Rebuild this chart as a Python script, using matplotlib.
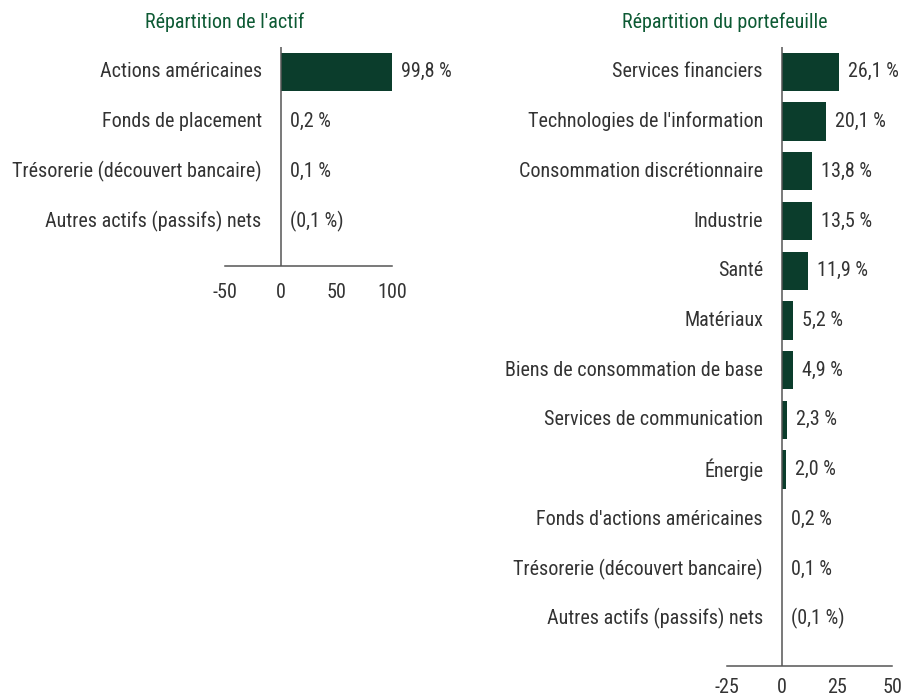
import matplotlib
matplotlib.use("Agg")
import matplotlib.pyplot as plt
from matplotlib.font_manager import fontManager

# data
actif_labels = ["Actions américaines", "Fonds de placement",
                "Trésorerie (découvert bancaire)", "Autres actifs (passifs) nets"]
actif_values = [99.8, 0.2, 0.1, -0.1]
actif_text = ["99,8 %", "0,2 %", "0,1 %", "(0,1 %)"]

porte_labels = ["Services financiers", "Technologies de l'information",
                "Consommation discrétionnaire", "Industrie", "Santé", "Matériaux",
                "Biens de consommation de base", "Services de communication",
                "Énergie", "Fonds d'actions américaines",
                "Trésorerie (découvert bancaire)", "Autres actifs (passifs) nets"]
porte_values = [26.1, 20.1, 13.8, 13.5, 11.9, 5.2, 4.9, 2.3, 2.0, 0.2, 0.1, -0.1]
porte_text = ["26,1 %", "20,1 %", "13,8 %", "13,5 %", "11,9 %", "5,2 %", "4,9 %",
              "2,3 %", "2,0 %", "0,2 %", "0,1 %", "(0,1 %)"]

installed = {f.name for f in fontManager.ttflist}
fam = "Liberation Sans"
for cand in ["Liberation Sans Narrow", "Roboto Condensed", "Arial Narrow"]:
    if cand in installed:
        fam = cand
        break
plt.rcParams['font.family'] = [fam, 'DejaVu Sans']

green = "#0b3d2c"
title_green = "#0d5a34"
text_col = "#333333"

W, H = 907, 698
fig = plt.figure(figsize=(W / 100, H / 100), dpi=100)

# pick a font size so the longest label is as wide as in the reference (~252 px)
probe = fig.text(0, 0, "Trésorerie (découvert bancaire)", fontsize=14)
fig.canvas.draw()
wpx = probe.get_window_extent().width
probe.remove()
fs = 14 * 252 / wpx


def panel(left_px, right_px, top_px, bottom_px, labels, values, texts, xlim, ticks, ylim, pad):
    ax = fig.add_axes([left_px / W, 1 - bottom_px / H, (right_px - left_px) / W,
                       (bottom_px - top_px) / H])
    ys = list(range(len(values)))
    ax.barh(ys, values, height=0.77, color=green)
    ax.set_xlim(*xlim)
    ax.set_ylim(*ylim)
    ax.axvline(0, color="#555555", lw=1.1)
    for s in ["top", "right", "left"]:
        ax.spines[s].set_visible(False)
    ax.spines["bottom"].set_color("#555555")
    ax.spines["bottom"].set_linewidth(1.1)
    ax.set_yticks([])
    ax.set_xticks(ticks)
    ax.set_xticklabels([str(t) for t in ticks], fontsize=fs, color=text_col)
    ax.tick_params(axis="x", length=0, pad=pad)
    for y, lab, v, t in zip(ys, labels, values, texts):
        ax.annotate(lab, xy=(0, y), xytext=(-19 * 0.72, 0), textcoords="offset points",
                    ha="right", va="center", fontsize=fs, color=text_col)
        ax.annotate(t, xy=(max(v, 0), y), xytext=(9 * 0.72, 0), textcoords="offset points",
                    ha="left", va="center", fontsize=fs, color=text_col)
    return ax


panel(225, 392, 47, 266, actif_labels, actif_values, actif_text,
      (-50, 100), [-50, 0, 50, 100], (3.9, -0.5), 12)
panel(727, 892, 47, 666, porte_labels, porte_values, porte_text,
      (-25, 50), [-25, 0, 25, 50], (11.95, -0.5), 8.5)

fig.text(225 / W, 1 - 22 / H, "Répartition de l'actif", ha="center", va="center",
         fontsize=fs, color=title_green)
fig.text(725 / W, 1 - 22 / H, "Répartition du portefeuille", ha="center", va="center",
         fontsize=fs, color=title_green)

fig.savefig("out.png", dpi=100)
